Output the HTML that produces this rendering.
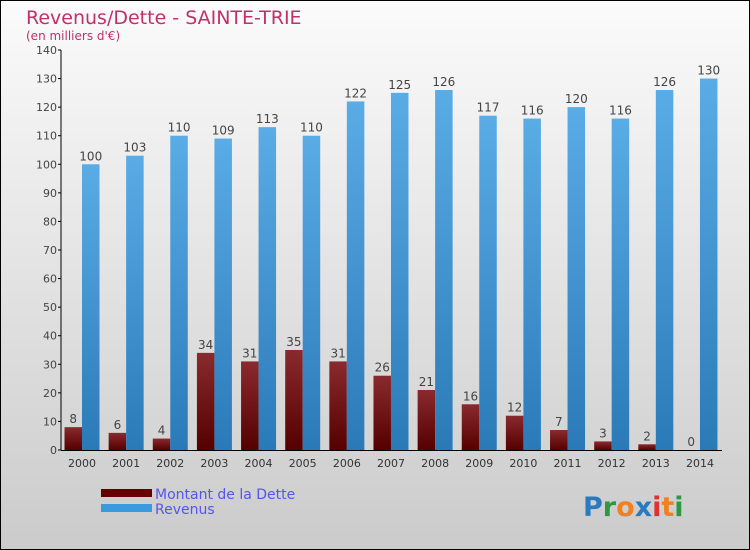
<!DOCTYPE html>
<html><head><meta charset="utf-8"><style>
body{margin:0;width:750px;height:550px;overflow:hidden}
svg{display:block;font-family:"DejaVu Sans","Liberation Sans",sans-serif}
</style></head><body>
<svg id="c" width="750" height="550" viewBox="0 0 750 550">
<defs>
<linearGradient id="bg" x1="0" y1="0" x2="0" y2="1"><stop offset="0" stop-color="#fbfbfb"/><stop offset="1" stop-color="#cbcbcb"/></linearGradient>
<linearGradient id="gd" x1="0" y1="0" x2="0" y2="1"><stop offset="0" stop-color="#8a2a2e"/><stop offset="1" stop-color="#550000"/></linearGradient>
<linearGradient id="gr" x1="0" y1="0" x2="0" y2="1"><stop offset="0" stop-color="#5aace6"/><stop offset="1" stop-color="#2a7ab8"/></linearGradient>
</defs>
<rect x="0.5" y="0.5" width="749" height="549" fill="url(#bg)" stroke="#000"/>
<text x="26" y="24" font-size="19" fill="#c0306a">Revenus/Dette - SAINTE-TRIE</text>
<text x="26" y="40" font-size="12" fill="#c0306a">(en milliers d'€)</text>
<g id="plot"></g>
<rect x="101" y="489" width="51" height="8" fill="#660000"/>
<rect x="101" y="504" width="51" height="8" fill="#3a9ae0"/>
<text x="155" y="499" font-size="14" fill="#5555ee">Montant de la Dette</text>
<text x="155" y="514" font-size="14" fill="#5555ee">Revenus</text>
<text x="583" y="516" font-size="27" font-weight="bold"><tspan fill="#2a7ac0">P</tspan><tspan fill="#2a9a40">r</tspan><tspan fill="#f08020">o</tspan><tspan fill="#2a7ac0">x</tspan><tspan fill="#e03030">i</tspan><tspan fill="#f08020">t</tspan><tspan fill="#2a9a40">i</tspan></text>
</svg>
<script>
const years=["2000","2001","2002","2003","2004","2005","2006","2007","2008","2009","2010","2011","2012","2013","2014"];
const debt=[8,6,4,34,31,35,31,26,21,16,12,7,3,2,0];
const revenue=[100,103,110,109,113,110,122,125,126,117,116,120,116,126,130];
const yTicks=[0,10,20,30,40,50,60,70,80,90,100,110,120,130,140];
const NS="http://www.w3.org/2000/svg";
const g=document.getElementById('plot');
const y0=450,ppu=400/140,x0=64.5,step=44.14,bw=17.5;
const Y=v=>y0-v*ppu;
const X=i=>x0+i*step;
function mk(t,a){const e=document.createElementNS(NS,t);for(const k in a)e.setAttribute(k,a[k]);g.appendChild(e);return e;}
yTicks.forEach(v=>{
 const l=mk('line',{x1:58,x2:61,y1:Y(v),y2:Y(v),stroke:'#000'});
 
 
 const t=mk('text',{x:57,y:Y(v)+4,'font-size':11,'text-anchor':'end',fill:'#444'});
 t.textContent=v;
 
 
});
years.forEach((yr,i)=>{
 const d=mk('rect',{x:X(i),y:Y(debt[i]),width:bw,height:Math.max(debt[i]*ppu,1),fill:'url(#gd)'});
 
 
 const r=mk('rect',{x:X(i)+bw,y:Y(revenue[i]),width:bw,height:revenue[i]*ppu,fill:'url(#gr)'});
 
 
 const dl=mk('text',{x:X(i)+bw/2,y:Y(debt[i])-4,'font-size':12,'text-anchor':'middle',fill:'#444'});
 dl.textContent=debt[i];
 
 
 const rl=mk('text',{x:X(i)+bw*1.5,y:Y(revenue[i])-4,'font-size':12,'text-anchor':'middle',fill:'#444'});
 rl.textContent=revenue[i];
 
 
 const xl=mk('text',{x:X(i)+bw,y:467,'font-size':11,'text-anchor':'middle',fill:'#333'});
 xl.textContent=yr;
 
 
});
const ya=mk('line',{x1:61,x2:61,y1:50,y2:450,stroke:'#000'});


const xa=mk('line',{x1:61,x2:722,y1:450.5,y2:450.5,stroke:'#000'});


</script>
</body></html>
